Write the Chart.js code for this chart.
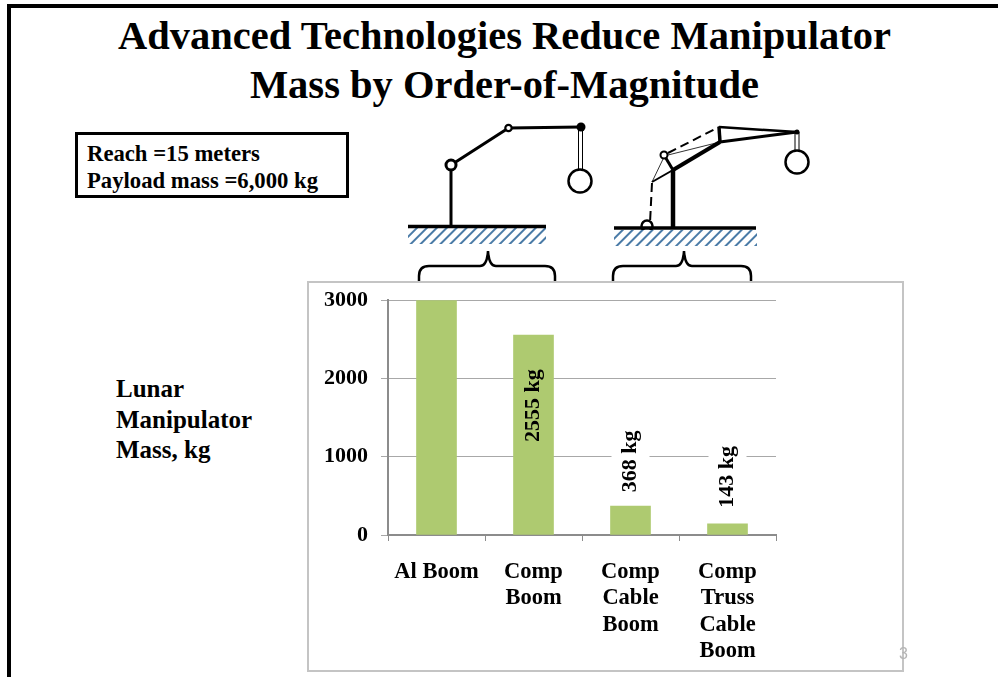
<!DOCTYPE html>
<html>
<head>
<meta charset="utf-8">
<title>Lunar Manipulator Mass</title>
<script src="https://cdn.jsdelivr.net/npm/chart.js@4"></script>
<style>
    html, body { margin: 0; padding: 0; background: #fff; }
    body { width: 998px; height: 677px; position: relative; overflow: hidden; font-family: "Liberation Serif", serif; font-weight: bold; color: #000; }
    .abs { position: absolute; }
    #edgeTop { left: 7px; top: 4px; width: 991px; height: 4px; background: #000; }
    #edgeLeft { left: 7px; top: 4px; width: 4px; height: 673px; background: #000; }
    #title { left: 11px; top: 11px; width: 987px; text-align: center; font-size: 40.5px; line-height: 49px; }
    #specBox { left: 75px; top: 132px; width: 259px; height: 55px; border: 3px solid #000; padding: 5px 0 0 9px; font-size: 22.7px; line-height: 27px; }
    #yTitle { left: 116px; top: 374px; font-size: 25px; line-height: 30.5px; }
    #chartFrame { left: 307px; top: 281px; width: 597px; height: 391px; border: 2px solid #c4c4c4; box-sizing: border-box; }
    #massChart { left: 308px; top: 274px; }
    #sketches { left: 0; top: 0; }
    #pageNo { left: 899px; top: 645px; font-family: "Liberation Sans", sans-serif; font-weight: normal; font-size: 16px; color: #b5b5b5; }
</style>
</head>
<body>
<div id="edgeTop" class="abs"></div>
<div id="edgeLeft" class="abs"></div>
<div id="title" class="abs">Advanced Technologies Reduce Manipulator<br>Mass by Order-of-Magnitude</div>
<div id="specBox" class="abs">Reach =15 meters<br>Payload mass =6,000 kg</div>
<div id="yTitle" class="abs">Lunar<br>Manipulator<br>Mass, kg</div>

<svg id="sketches" class="abs" width="998" height="677" fill="none" stroke="#000">
    <defs>
        <pattern id="hatch" width="7" height="7" patternUnits="userSpaceOnUse" patternTransform="rotate(45)">
            <rect width="7" height="7" fill="#fff" stroke="none"></rect>
            <line x1="0" y1="0" x2="0" y2="7" stroke="#4a7ba7" stroke-width="4"></line>
        </pattern>
    </defs>

    <!-- simple boom -->
    <rect x="408" y="228" width="138" height="16" fill="url(#hatch)" stroke="none"></rect>
    <line x1="408" y1="226.5" x2="546" y2="226.5" stroke-width="3.5"></line>
    <line x1="451" y1="226" x2="451" y2="170" stroke-width="3"></line>
    <polyline points="451,165 508.5,128 581,127" stroke-width="3"></polyline>
    <circle cx="451" cy="165" r="5" fill="#fff" stroke-width="3"></circle>
    <circle cx="508.5" cy="128" r="3.2" fill="#fff" stroke-width="2.2"></circle>
    <circle cx="581" cy="127" r="4.5" fill="#000" stroke="none"></circle>
    <line x1="578.5" y1="127" x2="578.5" y2="170" stroke-width="1"></line>
    <line x1="582.5" y1="127" x2="582.5" y2="170" stroke-width="1"></line>
    <circle cx="580" cy="181" r="11.5" fill="#fff" stroke-width="2.5"></circle>
    <path d="M419 282 V276 Q419 266 429 266 H480 Q487 266 488 251 Q489 266 496 266 H545 Q555 266 555 276 V282" stroke-width="2.5"></path>

    <!-- truss cable boom -->
    <rect x="614" y="230" width="143" height="16" fill="url(#hatch)" stroke="none"></rect>
    <circle cx="647" cy="226" r="5.5" fill="#fff" stroke-width="2.5"></circle>
    <line x1="614" y1="228" x2="756" y2="228" stroke-width="3.5"></line>
    <rect x="630" y="230" width="34" height="3" fill="url(#hatch)" stroke="none"></rect>
    <line x1="673" y1="228" x2="673" y2="170" stroke-width="4.5"></line>
    <line x1="652" y1="182" x2="673" y2="170" stroke-width="2"></line>
    <line x1="673" y1="170" x2="720" y2="142" stroke-width="4"></line>
    <line x1="720" y1="142" x2="797" y2="132" stroke-width="3"></line>
    <line x1="719" y1="127" x2="797" y2="132" stroke-width="2.5"></line>
    <line x1="719" y1="127" x2="720" y2="142" stroke-width="3.5"></line>
    <line x1="668" y1="153" x2="719" y2="127" stroke-width="2" stroke-dasharray="9 5"></line>
    <line x1="668" y1="155" x2="720" y2="142" stroke-width="0.8"></line>
    <line x1="664" y1="157" x2="652" y2="182" stroke-width="0.8"></line>
    <line x1="652" y1="183" x2="650" y2="223" stroke-width="2" stroke-dasharray="9 5"></line>
    <line x1="664" y1="155" x2="673" y2="170" stroke-width="3"></line>
    <circle cx="664" cy="155" r="3.5" fill="#fff" stroke-width="2"></circle>
    <circle cx="797" cy="132" r="2.5" fill="#000" stroke="none"></circle>
    <line x1="795" y1="132" x2="795" y2="150" stroke-width="1"></line>
    <line x1="799" y1="132" x2="799" y2="150" stroke-width="1"></line>
    <circle cx="797" cy="162" r="11.5" fill="#fff" stroke-width="2.5"></circle>
    <path d="M613 282 V276 Q613 266 623 266 H676 Q683 266 684 251 Q685 266 692 266 H741 Q751 266 751 276 V282" stroke-width="2.5"></path>
</svg>

<div id="chartFrame" class="abs"></div>
<canvas id="massChart" class="abs" width="596" height="398"></canvas>
<div id="pageNo" class="abs">3</div>

<script>
// Chart data
const categories = [['Al Boom'], ['Comp', 'Boom'], ['Comp', 'Cable', 'Boom'], ['Comp', 'Truss', 'Cable', 'Boom']];
const massKg = [3000, 2555, 368, 143];
const massLabels = ['', '2555 kg', '368 kg', '143 kg'];
const yTicks = [0, 1000, 2000, 3000];

// Distance from bar top to the end of each rotated label, negative means above the bar
const labelShift = [0, 107, -14, -16];

// Hand rolled data labels, rotated like in the original slide
const rotatedLabels = {
    id: 'rotatedLabels',
    afterDatasetsDraw(chart) {
        const ctx = chart.ctx;
        const bars = chart.getDatasetMeta(0).data;
        ctx.save();
        ctx.font = 'bold 22px "Liberation Serif"';
        ctx.textBaseline = 'middle';
        ctx.textAlign = 'left';
        bars.forEach((bar, i) => {
            if (!massLabels[i]) return;
            const width = ctx.measureText(massLabels[i]).width;
            const bottom = bar.y + labelShift[i];
            // Small labels sit on a white patch that breaks the gridline
            if (labelShift[i] < 0) {
                ctx.fillStyle = '#fff';
                ctx.fillRect(bar.x - 19, bottom - width - 3, 38, width + 6);
            }
            ctx.save();
            ctx.translate(bar.x, bottom);
            ctx.rotate(-Math.PI / 2);
            ctx.fillStyle = '#000';
            ctx.fillText(massLabels[i], 0, 0);
            ctx.restore();
        });
        ctx.restore();
    }
};

new Chart(document.getElementById('massChart').getContext('2d'), {
    type: 'bar',
    data: {
        labels: categories,
        datasets: [{
            label: 'Lunar Manipulator Mass, kg',
            data: massKg,
            backgroundColor: '#aeca70',
            barThickness: 40
        }]
    },
    options: {
        responsive: false,
        animation: false,
        layout: { padding: { top: 0, right: 128, left: 0, bottom: 0 } },
        plugins: {
            legend: { display: false },
            tooltip: { enabled: false }
        },
        scales: {
            y: {
                min: 0,
                max: 3000,
                afterFit: (scale) => { scale.width = 80; },
                afterBuildTicks: (scale) => { scale.ticks = yTicks.map(v => ({ value: v })); },
                grid: { color: '#a8a8a8', lineWidth: 1, tickLength: 7 },
                border: { color: '#8c8c8c', width: 2 },
                ticks: {
                    color: '#000',
                    padding: 13,
                    callback: (value) => String(value),
                    font: { family: '"Liberation Serif"', size: 22, weight: 'bold' }
                }
            },
            x: {
                afterFit: (scale) => { scale.height = 137; },
                grid: { drawOnChartArea: false, color: '#8c8c8c', tickLength: 6 },
                border: { color: '#8c8c8c', width: 2 },
                ticks: {
                    color: '#000',
                    padding: 18,
                    maxRotation: 0,
                    autoSkip: false,
                    font: { family: '"Liberation Serif"', size: 22.5, weight: 'bold', lineHeight: 1.17 }
                }
            }
        }
    },
    plugins: [rotatedLabels]
});
</script>
</body>
</html>
